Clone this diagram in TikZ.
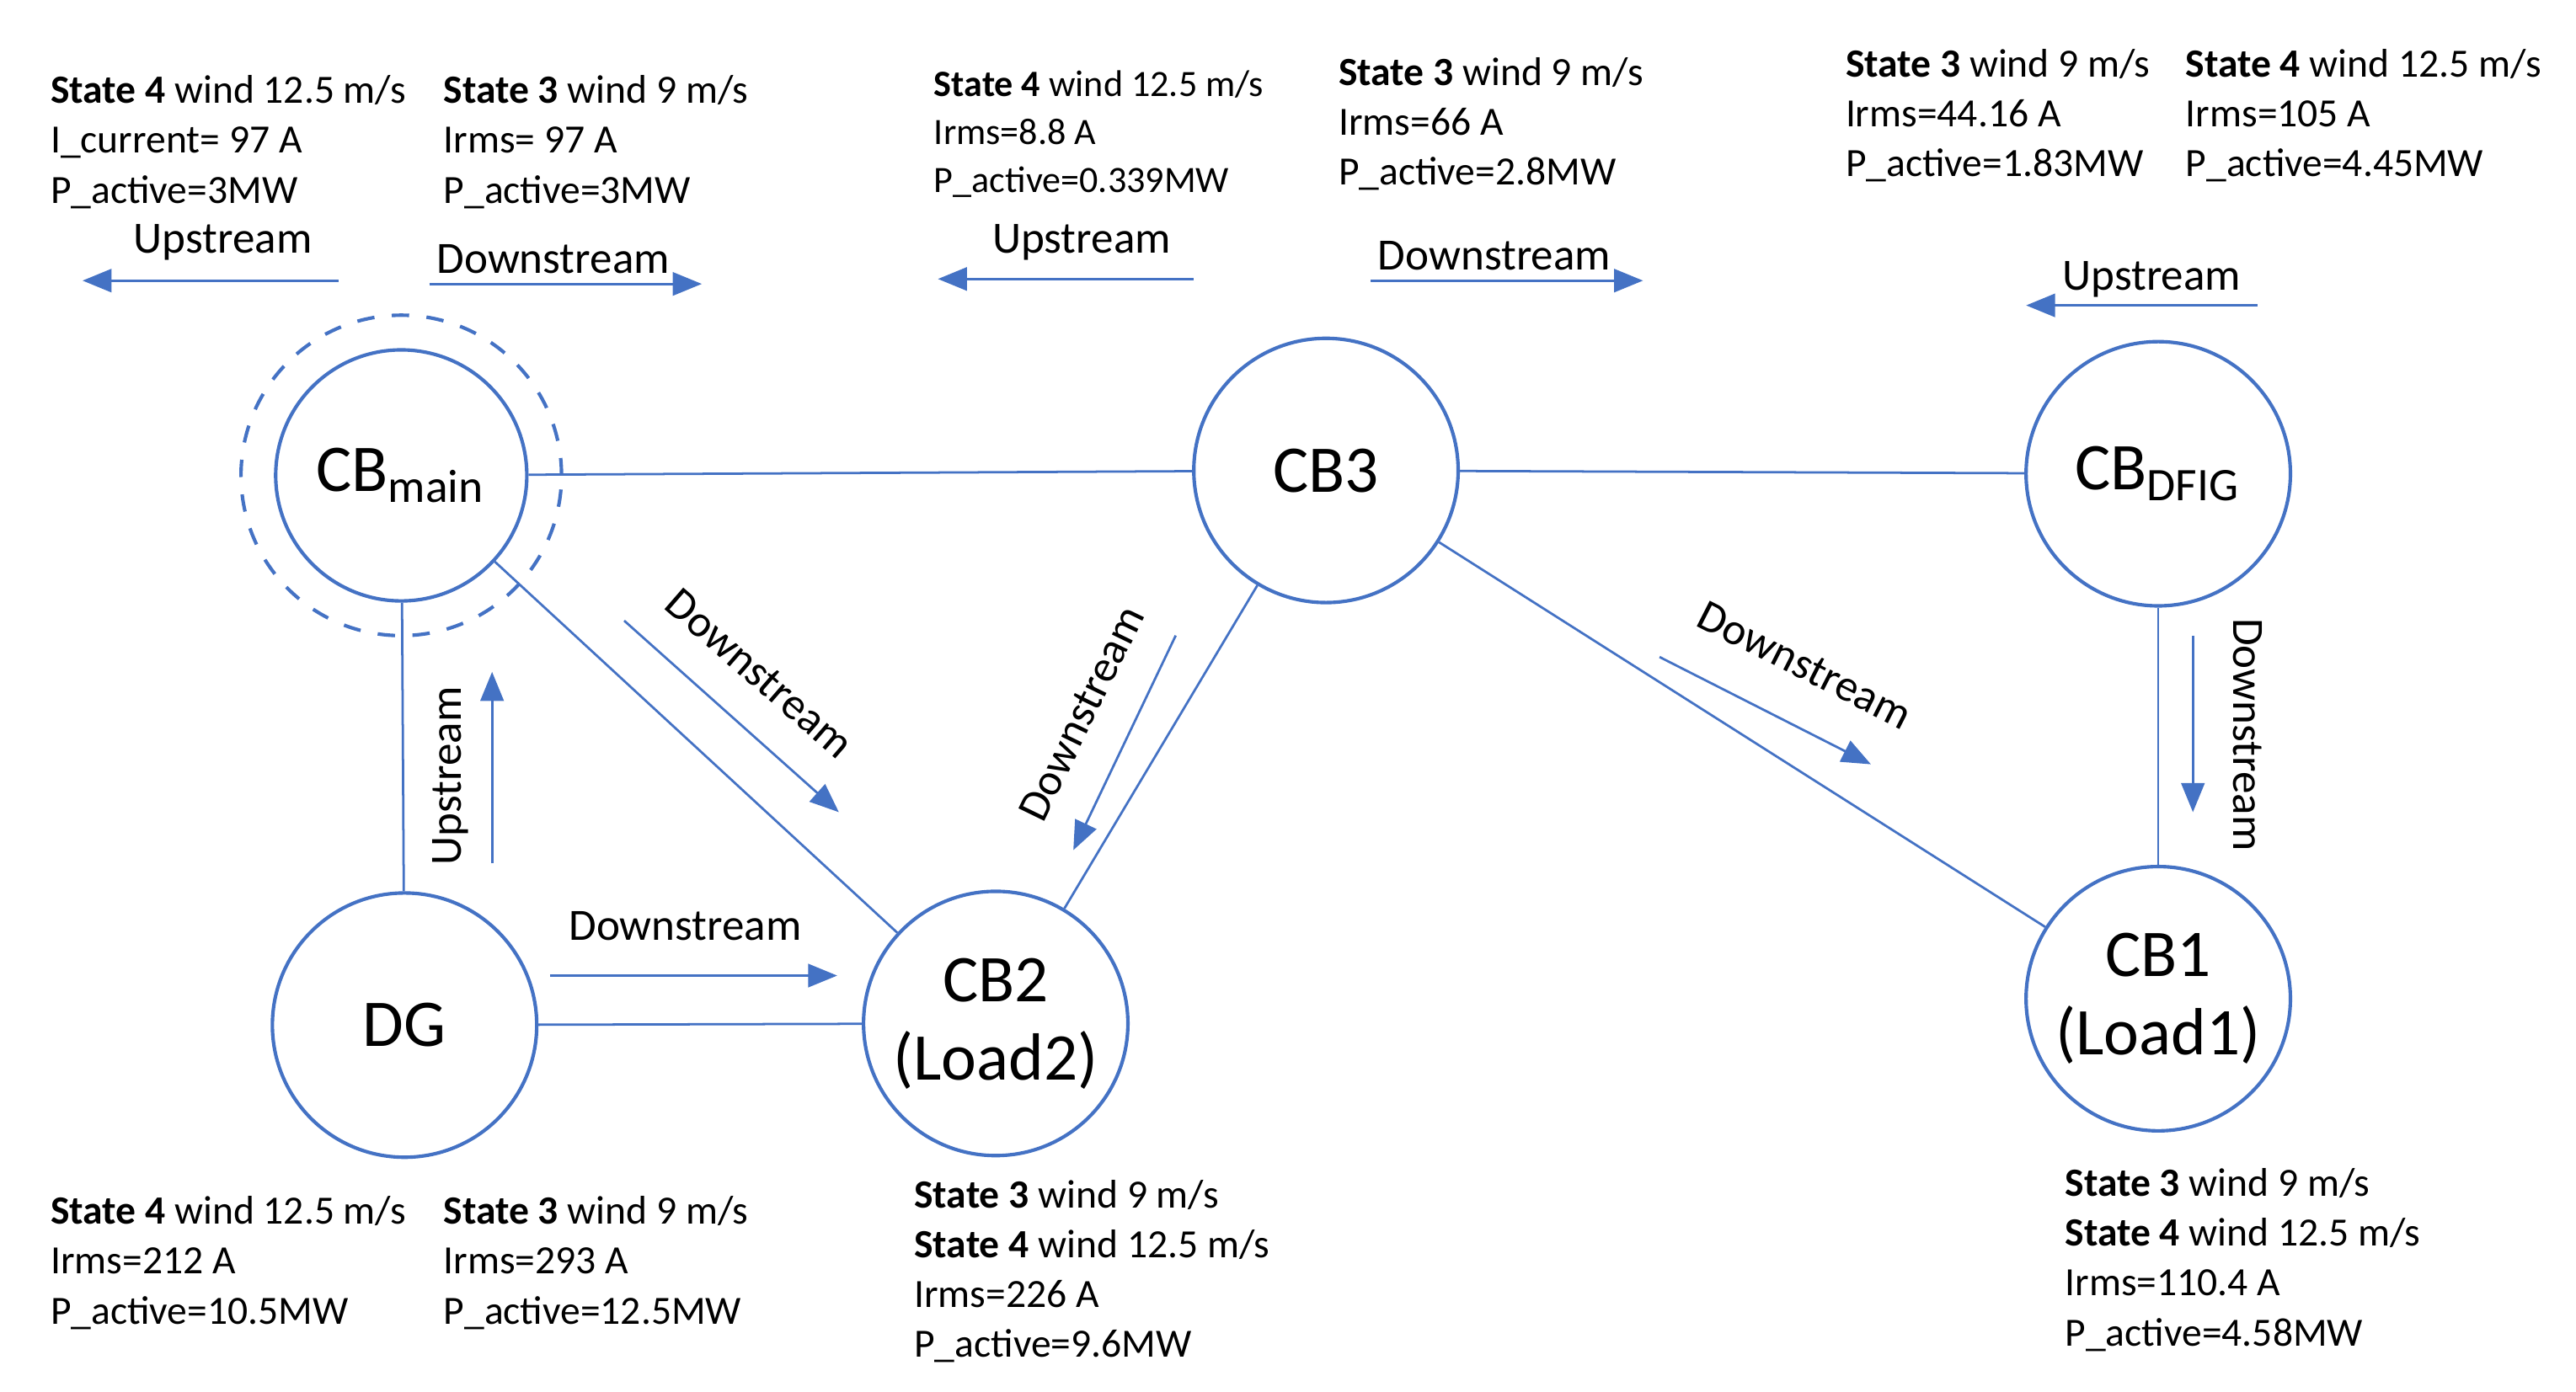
\documentclass[tikz,border=0pt]{standalone}
\usepackage{fontspec}
\setmainfont{Carlito}
\usepackage{xcolor}
\usetikzlibrary{arrows.meta,positioning,calc}
\definecolor{lineblue}{RGB}{68,114,196}

\begin{document}
\begin{tikzpicture}[x=0.01cm,y=-0.01cm,
    bus/.style={circle, draw=lineblue, semithick, minimum size=1.6cm, inner sep=0pt, font=\fontsize{11.5}{13.5}\selectfont, align=center},
    link/.style={draw=lineblue, thin},
    flow/.style={draw=lineblue, thin, -{Triangle[length=5pt,width=4pt]}},
    info/.style={anchor=north west, inner sep=0pt, align=left, font=\fontsize{6.9}{8.6}\selectfont},
    lbl/.style={inner sep=1pt, font=\fontsize{7.7}{9}\selectfont}]
    \useasboundingbox (0,0) rectangle (1560,843);

    % Buses
    \node[bus, minimum size=1.52cm] (cbmain) at (243,288) {CB\textsubscript{main}};
    \node[circle, draw=lineblue, semithick, dashed, minimum size=1.94cm] (ring) at (243,288) {};
    \node[bus] (cb3) at (803,285) {CB3};
    \node[bus] (cbdfig) at (1307,287) {CB\textsubscript{DFIG}};
    \node[bus] (dg) at (245,621) {DG};
    \node[bus] (cb2) at (603,620) {CB2\\(Load2)};
    \node[bus] (cb1) at (1307,605) {CB1\\(Load1)};

    % Lines
    \draw[link] (cbmain) -- (cb3);
    \draw[link] (cb3) -- (cbdfig);
    \draw[link] (cbmain) -- (dg);
    \draw[link] (cbmain) -- (cb2);
    \draw[link] (dg) -- (cb2);
    \draw[link] (cb3) -- (cb2);
    \draw[link] (cb3) -- (cb1);
    \draw[link] (cbdfig) -- (cb1);

    % Flow arrows
    \coordinate (u1a) at (205,170); \coordinate (u1b) at (50,170);
    \draw[flow] (u1a) -- (u1b);
    \node[lbl] (u1) at (135,147) {Upstream};
    \coordinate (d1a) at (260,172); \coordinate (d1b) at (425,172);
    \draw[flow] (d1a) -- (d1b);
    \node[lbl] (d1) at (335,157) {Downstream};
    \coordinate (u2a) at (723,169); \coordinate (u2b) at (568,169);
    \draw[flow] (u2a) -- (u2b);
    \node[lbl] (u2) at (655,147) {Upstream};
    \coordinate (d2a) at (830,170); \coordinate (d2b) at (995,170);
    \draw[flow] (d2a) -- (d2b);
    \node[lbl] (d2) at (905,155) {Downstream};
    \coordinate (u3a) at (1367,185); \coordinate (u3b) at (1227,185);
    \draw[flow] (u3a) -- (u3b);
    \node[lbl] (u3) at (1303,169) {Upstream};
    \coordinate (d3a) at (378,376); \coordinate (d3b) at (508,492);
    \draw[flow] (d3a) -- (d3b);
    \node[lbl, rotate=-41] (d3) at (460,408) {Downstream};
    \coordinate (d4a) at (712,385); \coordinate (d4b) at (650,515);
    \draw[flow] (d4a) -- (d4b);
    \node[lbl, rotate=64] (d4) at (655,432) {Downstream};
    \coordinate (d5a) at (1005,398); \coordinate (d5b) at (1133,463);
    \draw[flow] (d5a) -- (d5b);
    \node[lbl, rotate=-27] (d5) at (1093,403) {Downstream};
    \coordinate (d6a) at (1328,385); \coordinate (d6b) at (1328,492);
    \draw[flow] (d6a) -- (d6b);
    \node[lbl, rotate=-90] (d6) at (1361,445) {Downstream};
    \coordinate (u4a) at (298,523); \coordinate (u4b) at (298,407);
    \draw[flow] (u4a) -- (u4b);
    \node[lbl, rotate=90] (u4) at (273,470) {Upstream};
    \coordinate (d7a) at (333,591); \coordinate (d7b) at (507,591);
    \draw[flow] (d7a) -- (d7b);
    \node[lbl] (d7) at (415,561) {Downstream};

    % Measurements
    \node[info] (m1) at (30,45) {\textbf{State 4} wind 12.5 m/s\\I\_current= 97 A\\P\_active=3MW};
    \node[info] (m2) at (268,45) {\textbf{State 3} wind 9 m/s\\Irms= 97 A\\P\_active=3MW};
    \node[info, font=\fontsize{6.4}{8.3}\selectfont] (m3) at (565,42) {\textbf{State 4} wind 12.5 m/s\\Irms=8.8 A\\P\_active=0.339MW};
    \node[info] (m4) at (810,34) {\textbf{State 3} wind 9 m/s\\Irms=66 A\\P\_active=2.8MW};
    \node[info] (m5) at (1117,29) {\textbf{State 3} wind 9 m/s\\Irms=44.16 A\\P\_active=1.83MW};
    \node[info] (m6) at (1323,29) {\textbf{State 4} wind 12.5 m/s\\Irms=105 A\\P\_active=4.45MW};
    \node[info] (m7) at (30,724) {\textbf{State 4} wind 12.5 m/s\\Irms=212 A\\P\_active=10.5MW};
    \node[info] (m8) at (268,724) {\textbf{State 3} wind 9 m/s\\Irms=293 A\\P\_active=12.5MW};
    \node[info] (m9) at (553,714) {\textbf{State 3} wind 9 m/s\\\textbf{State 4} wind 12.5 m/s\\Irms=226 A\\P\_active=9.6MW};
    \node[info] (m10) at (1250,707) {\textbf{State 3} wind 9 m/s\\\textbf{State 4} wind 12.5 m/s\\Irms=110.4 A\\P\_active=4.58MW};
\end{tikzpicture}
\end{document}
